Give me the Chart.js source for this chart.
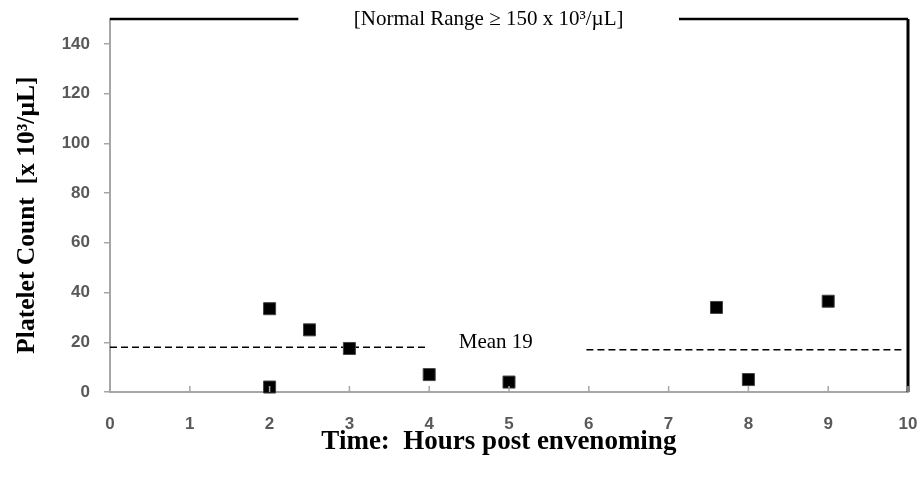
<!DOCTYPE html>
<html>
<head>
<meta charset="utf-8">
<script src="https://cdn.jsdelivr.net/npm/chart.js@4"></script>
<style>
  html, body { margin: 0; padding: 0; background: #fff; }
</style>
</head>
<body>
<canvas id="plt" width="922" height="482"></canvas>
<script>
// Bloedplaatjes na envenomatie
const timeHours = [2, 2, 2.5, 3, 4, 5, 7.6, 8, 9];
const plateletCounts = [33.5, 2, 25, 17.5, 7, 4, 34, 5, 36.5];

// Gemiddelde-stippellijnen (twee stukken rond het label)
const meanLeftX = [0, 3.95];
const meanLeftY = 18;
const meanRightX = [5.97, 9.93];
const meanRightY = 17;
const meanLabel = 'Mean 19';
const meanLabelPos = [4.37, 20];

// Normaalgrens bovenaan, met een gat voor de tekst
const normalValue = 150;
const normalLeftX = [0, 2.36];
const normalRightX = [7.13, 10];
const normalLabel = '[Normal Range \u2265 150 x 10\u00b3/\u00b5L]';

const xTicks = [0, 1, 2, 3, 4, 5, 6, 7, 8, 9, 10];

const AXIS_GREY = '#a6a6a6';
const TICK_FONT = { family: 'Liberation Sans', size: 17, weight: 'bold' };
const SERIF = '"Liberation Serif", "Times New Roman", serif';

const seg = (xs, y) => xs.map(x => ({ x, y }));

// Teksten en naar binnen wijzende x-tickstreepjes
const annotations = {
    id: 'annotations',
    afterDatasetsDraw(chart) {
        const { ctx, scales: { x, y } } = chart;
        ctx.save();
        ctx.strokeStyle = AXIS_GREY;
        ctx.lineWidth = 1.5;
        xTicks.slice(1).forEach(v => {
            const px = x.getPixelForValue(v);
            ctx.beginPath();
            ctx.moveTo(px, y.bottom);
            ctx.lineTo(px, y.bottom - 6);
            ctx.stroke();
        });

        ctx.fillStyle = '#000';
        ctx.font = '21px ' + SERIF;
        ctx.textBaseline = 'middle';
        ctx.textAlign = 'center';
        const cx = x.getPixelForValue((normalLeftX[1] + normalRightX[0]) / 2);
        ctx.fillText(normalLabel, cx, y.getPixelForValue(normalValue));

        ctx.textAlign = 'left';
        ctx.fillText(meanLabel, x.getPixelForValue(meanLabelPos[0]), y.getPixelForValue(meanLabelPos[1]));
        ctx.restore();
    }
};

const lineDs = (data, extra = {}) => ({
    type: 'line', data, borderColor: '#000', borderWidth: 2.5,
    pointRadius: 0, fill: false, tension: 0, clip: false, ...extra
});

new Chart(document.getElementById('plt'), {
    type: 'scatter',
    data: {
        datasets: [
            {
                label: 'Platelets',
                data: timeHours.map((t, i) => ({ x: t, y: plateletCounts[i] })),
                pointStyle: 'rect', pointRadius: 8.5, pointHoverRadius: 8.5,
                backgroundColor: '#000', borderColor: '#444', borderWidth: 1, clip: false
            },
            lineDs(seg(meanLeftX, meanLeftY), { borderWidth: 1.5, borderDash: [7, 4] }),
            lineDs(seg(meanRightX, meanRightY), { borderWidth: 1.5, borderDash: [7, 4] }),
            lineDs(seg(normalLeftX, normalValue)),
            lineDs(seg(normalRightX, normalValue)),
            lineDs([{ x: 10, y: normalValue }, { x: 10, y: 0 }], { borderWidth: 3 })
        ]
    },
    options: {
        responsive: false,
        animation: false,
        devicePixelRatio: 1,
        layout: { padding: { top: 19, right: 14, left: 0, bottom: 0 } },
        plugins: {
            legend: { display: false },
            tooltip: { enabled: false }
        },
        scales: {
            x: {
                type: 'linear', min: 0, max: 10,
                afterBuildTicks: s => { s.ticks = xTicks.map(value => ({ value })); },
                afterFit: s => { s.height = 90; s.paddingLeft = 0; s.paddingRight = 0; },
                grid: { display: false, drawTicks: false },
                border: { color: AXIS_GREY, width: 2 },
                ticks: { font: TICK_FONT, color: '#595959', padding: 22, maxRotation: 0 },
                title: {
                    display: true, text: 'Time:  Hours post envenoming   ', color: '#000',
                    font: { family: SERIF, size: 27, weight: 'bold' }, padding: { top: 0, bottom: 24 }
                }
            },
            y: {
                min: 0, max: 150,
                afterBuildTicks: s => { s.ticks = s.ticks.filter(t => t.value <= 140); },
                afterFit: s => { s.width = 110; s.paddingTop = 0; s.paddingBottom = 0; },
                grid: { drawOnChartArea: false, drawTicks: true, tickLength: 6, color: AXIS_GREY, lineWidth: 1.5 },
                border: { color: AXIS_GREY, width: 2 },
                ticks: { stepSize: 20, font: TICK_FONT, color: '#595959', padding: 14 },
                title: {
                    display: true, text: 'Platelet Count  [x 10\u00b3/\u00b5L]   ', color: '#000',
                    font: { family: SERIF, size: 25.5, weight: 'bold' }, padding: { top: 12, bottom: 0 }
                }
            }
        }
    },
    plugins: [annotations]
});
</script>
</body>
</html>
